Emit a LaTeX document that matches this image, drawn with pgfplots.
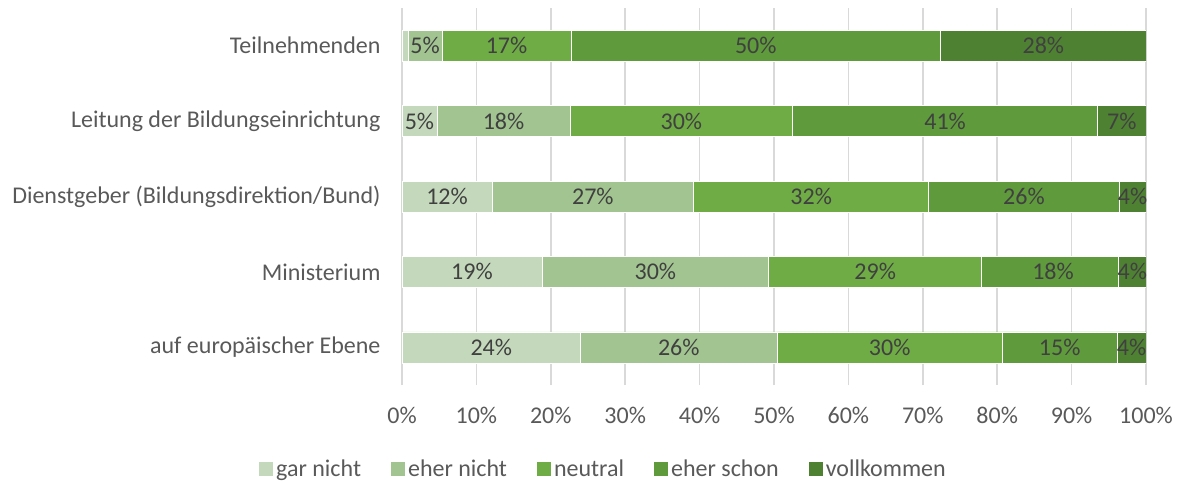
\documentclass[border=0pt]{standalone}
\usepackage{pgfplots}
\pgfplotsset{compat=1.18}
\usepackage{fontspec}
\setmainfont{Carlito}
\definecolor{c1}{HTML}{C4D8BB}
\definecolor{c2}{HTML}{A2C491}
\definecolor{c3}{HTML}{6FAC46}
\definecolor{c4}{HTML}{5F9A3C}
\definecolor{c5}{HTML}{4F8133}
\definecolor{gridgray}{HTML}{D9D9D9}
\definecolor{ticktext}{HTML}{595959}
\definecolor{labtext}{HTML}{404040}
\begin{document}
\begin{tikzpicture}[font=\fontsize{24bp}{28bp}\selectfont]
\path[use as bounding box] (-402bp,-96bp) rectangle (778bp,385bp);
\begin{axis}[
  at={(0,0)}, anchor=south west,
  scale only axis, width=744bp, height=377bp,
  xbar stacked, bar width=31bp,
  xmin=0, xmax=100, ymin=-0.5, ymax=4.5,
  xtick={0,10,...,100},
  xticklabels={0\%,10\%,20\%,30\%,40\%,50\%,60\%,70\%,80\%,90\%,100\%},
  ytick={0,1,2,3,4},
  yticklabels={auf europäischer Ebene, Ministerium, Dienstgeber (Bildungsdirektion/Bund), Leitung der Bildungseinrichtung, Teilnehmenden},
  xmajorgrids, ymajorgrids=false,
  grid style={draw=gridgray, line width=1.5bp},
  axis line style={draw=none},
  major tick length=0,
  tick label style={text=ticktext},
  xticklabel style={yshift=-19bp},
  yticklabel style={xshift=-18bp},
  every axis plot/.append style={draw=white, line width=0.6bp},
  legend style={at={(0.2715,-0.222)}, anchor=center, legend columns=5,
    draw=none, fill=none, text=ticktext, inner sep=0pt,
    /tikz/every even column/.append style={column sep=27bp},
    nodes={inner xsep=3bp, inner ysep=0pt}},
  legend image code/.code={\fill[#1, draw=none] (0bp,-7bp) rectangle (14bp,7bp);},
]
\addplot[fill=c1] coordinates {(0.8,4) (4.7,3) (12.1,2) (18.8,1) (24.0,0)};
\addplot[fill=c2] coordinates {(4.6,4) (17.9,3) (27.1,2) (30.5,1) (26.4,0)};
\addplot[fill=c3] coordinates {(17.3,4) (29.9,3) (31.6,2) (28.6,1) (30.3,0)};
\addplot[fill=c4] coordinates {(49.7,4) (41.0,3) (25.6,2) (18.4,1) (15.4,0)};
\addplot[fill=c5] coordinates {(27.6,4) (6.5,3) (3.6,2) (3.7,1) (3.9,0)};
\legend{gar nicht, eher nicht, neutral, eher schon, vollkommen}
\end{axis}
\begin{axis}[
  at={(0,0)}, anchor=south west,
  scale only axis, width=744bp, height=377bp,
  xmin=0, xmax=100, ymin=-0.5, ymax=4.5,
  hide axis,
]
\addplot[draw=none, mark=none, nodes near coords, point meta=explicit symbolic,
  nodes near coords style={anchor=center, text=labtext, inner sep=0pt}]
  table[meta=label] {
x y label
3.1 4 5\%
14.05 4 17\%
47.55 4 50\%
86.2 4 28\%
2.35 3 5\%
13.65 3 18\%
37.55 3 30\%
73 3 41\%
96.75 3 7\%
6.05 2 12\%
25.65 2 27\%
55 2 32\%
83.6 2 26\%
98.2 2 4\%
9.4 1 19\%
34.05 1 30\%
63.6 1 29\%
87.5 1 18\%
98.15 1 4\%
12 0 24\%
37.2 0 26\%
65.55 0 30\%
88.4 0 15\%
98.05 0 4\%
};
\end{axis}
\end{tikzpicture}
\end{document}
